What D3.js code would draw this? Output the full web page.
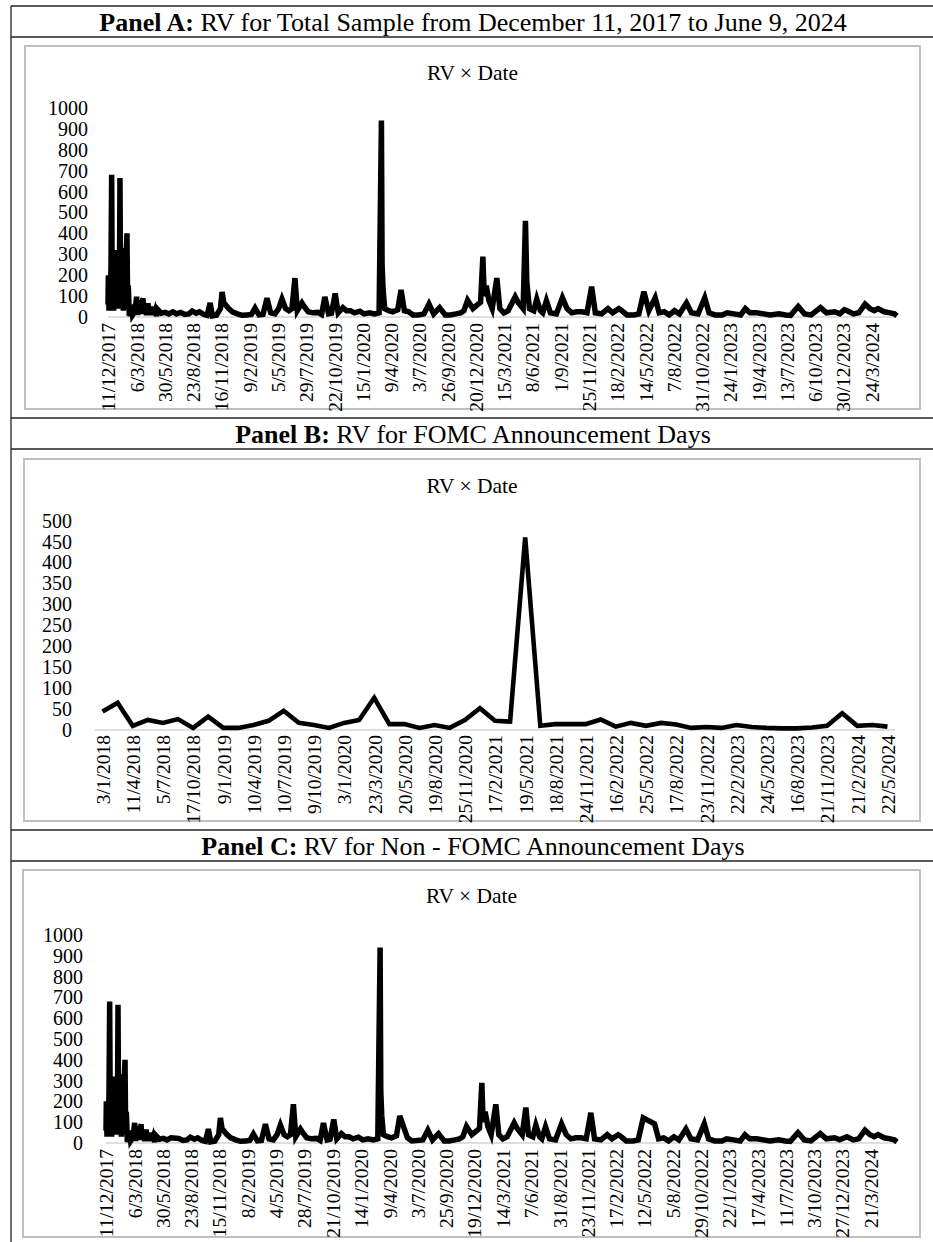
<!DOCTYPE html>
<html>
<head>
<meta charset="utf-8">
<script src="https://cdn.jsdelivr.net/npm/d3@7"></script>
<style>
body { margin: 0; background: #fff; }
svg { display: block; font-family: "Liberation Serif", "Times New Roman", serif; }
</style>
</head>
<body>
<div id="canvas"></div>
<script>
// daily RV, total sample (peaks and the low band)
var totalDates = [
  "11/12/2017","12/12/2017","14/12/2017","16/12/2017","18/12/2017","20/12/2017","22/12/2017","24/12/2017",
  "26/12/2017","28/12/2017","30/12/2017","1/1/2018","4/1/2018","6/1/2018","8/1/2018","10/1/2018",
  "12/1/2018","14/1/2018","16/1/2018","18/1/2018","20/1/2018","22/1/2018","24/1/2018","26/1/2018",
  "29/1/2018","1/2/2018","3/2/2018","6/2/2018","8/2/2018","10/2/2018","13/2/2018","17/2/2018",
  "20/2/2018","23/2/2018","27/2/2018","3/3/2018","7/3/2018","10/3/2018","14/3/2018","18/3/2018",
  "22/3/2018","26/3/2018","29/3/2018","1/4/2018","6/4/2018","10/4/2018","14/4/2018","17/4/2018",
  "21/4/2018","24/4/2018","28/4/2018","2/5/2018","6/5/2018","10/5/2018",
  "20/5/2018","1/6/2018","12/6/2018","24/6/2018","5/7/2018","17/7/2018","30/7/2018","11/8/2018",
  "21/8/2018","2/9/2018","12/9/2018","25/9/2018","5/10/2018","14/10/2018","21/10/2018","2/11/2018",
  "14/11/2018","19/11/2018","24/11/2018","1/12/2018","9/12/2018","20/12/2018","4/1/2019","18/1/2019",
  "2/2/2019","15/2/2019","26/2/2019","10/3/2019","22/3/2019","3/4/2019","14/4/2019","27/4/2019",
  "8/5/2019","18/5/2019","29/5/2019","8/6/2019","17/6/2019","26/6/2019","3/7/2019","17/7/2019",
  "24/7/2019","5/8/2019","19/8/2019","3/9/2019","14/9/2019","24/9/2019","5/10/2019","14/10/2019",
  "25/10/2019","3/11/2019","17/11/2019","28/11/2019","10/12/2019","22/12/2019","7/1/2020","20/1/2020",
  "5/2/2020","20/2/2020","5/3/2020","12/3/2020","14/3/2020","17/3/2020","22/3/2020","3/4/2020",
  "15/4/2020","30/4/2020","10/5/2020","20/5/2020","2/6/2020","15/6/2020","1/7/2020","18/7/2020",
  "2/8/2020","16/8/2020","3/9/2020","20/9/2020","5/10/2020","22/10/2020","5/11/2020","15/11/2020",
  "26/11/2020","12/12/2020","27/12/2020","4/1/2021","11/1/2021","15/1/2021","21/1/2021","29/1/2021",
  "8/2/2021","22/2/2021","3/3/2021","15/3/2021","28/3/2021","18/4/2021","27/4/2021","12/5/2021",
  "19/5/2021","23/5/2021","31/5/2021","13/6/2021","22/6/2021","3/7/2021","10/7/2021","21/7/2021",
  "2/8/2021","20/8/2021","7/9/2021","21/9/2021","5/10/2021","20/10/2021","5/11/2021","20/11/2021",
  "4/12/2021","15/12/2021","3/1/2022","22/1/2022","5/2/2022","24/2/2022","1/3/2022","20/3/2022",
  "10/4/2022","25/4/2022","10/5/2022","25/5/2022","13/6/2022","25/6/2022","10/7/2022","25/7/2022",
  "10/8/2022","25/8/2022","15/9/2022","30/9/2022","20/10/2022","9/11/2022","22/11/2022","10/12/2022",
  "1/1/2023","15/1/2023","5/2/2023","25/2/2023","11/3/2023","25/3/2023","15/4/2023","5/5/2023",
  "25/5/2023","20/6/2023","10/7/2023","25/7/2023","17/8/2023","5/9/2023","25/9/2023","23/10/2023",
  "10/11/2023","5/12/2023","20/12/2023","3/1/2024","11/1/2024","30/1/2024","15/2/2024","5/3/2024",
  "20/3/2024","2/4/2024","13/4/2024","1/5/2024","20/5/2024","1/6/2024","9/6/2024"
]
var totalValues = [
  60,200,30,180,40,250,680,40,
  220,30,280,40,240,60,320,40,
  300,50,665,60,330,40,300,30,
  200,40,260,400,60,150,5,20,
  60,10,20,40,97,10,50,60,
  15,90,20,45,10,65,15,40,
  10,50,10,30,5,35,
  18,22,15,25,15,22,12,15,
  28,18,25,12,8,67,5,8,
  40,120,70,55,40,25,15,8,
  10,12,43,10,12,90,20,15,
  40,86,40,30,40,186,30,67,
  50,25,20,22,12,96,15,18,
  113,20,45,30,30,20,28,15,
  20,15,20,940,250,130,40,30,
  25,35,130,30,25,10,10,15,
  62,15,45,10,10,15,20,30,
  80,40,60,70,289,100,150,80,
  40,186,40,20,30,97,70,40,
  460,170,40,30,86,30,20,78,
  20,15,92,40,20,25,25,20,
  145,20,15,40,20,40,35,10,
  10,15,121,30,92,20,25,10,
  30,15,67,20,15,92,20,10,
  10,20,15,10,40,20,20,15,
  10,15,10,8,50,15,10,45,
  20,25,15,35,30,15,20,62,
  40,30,40,25,20,15,5
]

// FOMC announcement days
var fomcDates = [
  "3/1/2018","21/2/2018","11/4/2018","23/5/2018","5/7/2018","22/8/2018","17/10/2018","29/11/2018",
  "9/1/2019","20/2/2019","10/4/2019","22/5/2019","10/7/2019","21/8/2019","9/10/2019","20/11/2019",
  "3/1/2020","19/2/2020","23/3/2020","8/4/2020","20/5/2020","1/7/2020","19/8/2020","7/10/2020","25/11/2020",
  "6/1/2021","17/2/2021","7/4/2021","19/5/2021","7/7/2021","18/8/2021","13/10/2021","24/11/2021",
  "5/1/2022","16/2/2022","6/4/2022","25/5/2022","6/7/2022","17/8/2022","12/10/2022","23/11/2022",
  "4/1/2023","22/2/2023","12/4/2023","24/5/2023","5/7/2023","16/8/2023","11/10/2023","21/11/2023",
  "3/1/2024","21/2/2024","10/4/2024","22/5/2024"
]
var fomcValues = [
  44,65,10,24,17,26,5,32,
  5,5,12,22,46,17,12,5,
  17,24,77,14,14,5,12,5,24,
  52,22,20,460,10,14,14,14,
  25,8,17,10,17,13,5,7,
  5,12,7,5,4,4,6,10,
  40,10,12,8
]

// tick labels as printed
var totalTicks = ["11/12/2017","6/3/2018","30/5/2018","23/8/2018","16/11/2018","9/2/2019","5/5/2019",
  "29/7/2019","22/10/2019","15/1/2020","9/4/2020","3/7/2020","26/9/2020","20/12/2020","15/3/2021",
  "8/6/2021","1/9/2021","25/11/2021","18/2/2022","14/5/2022","7/8/2022","31/10/2022","24/1/2023",
  "19/4/2023","13/7/2023","6/10/2023","30/12/2023","24/3/2024"]
var fomcTicks = ["3/1/2018","11/4/2018","5/7/2018","17/10/2018","9/1/2019","10/4/2019","10/7/2019",
  "9/10/2019","3/1/2020","23/3/2020","20/5/2020","19/8/2020","25/11/2020","17/2/2021","19/5/2021",
  "18/8/2021","24/11/2021","16/2/2022","25/5/2022","17/8/2022","23/11/2022","22/2/2023","24/5/2023",
  "16/8/2023","21/11/2023","21/2/2024","22/5/2024"]
var nonFomcTicks = ["11/12/2017","6/3/2018","30/5/2018","23/8/2018","15/11/2018","8/2/2019","4/5/2019",
  "28/7/2019","21/10/2019","14/1/2020","9/4/2020","3/7/2020","25/9/2020","19/12/2020","14/3/2021",
  "7/6/2021","31/8/2021","23/11/2021","17/2/2022","12/5/2022","5/8/2022","29/10/2022","22/1/2023",
  "17/4/2023","11/7/2023","3/10/2023","27/12/2023","21/3/2024"]
var yTicksBig = [0,100,200,300,400,500,600,700,800,900,1000]
var yTicksSmall = [0,50,100,150,200,250,300,350,400,450,500]

var sampleStart = "11/12/2017"
var sampleEnd = "9/6/2024"

var parse = d3.timeParse("%d/%m/%Y")
var fmt = d3.timeFormat("%-d/%-m/%Y")

// non-FOMC days = total sample without the FOMC days
var fomcSet = new Set(fomcDates)
var nonDates = totalDates.filter(function (d) { return !fomcSet.has(d) })
var nonValues = totalValues.filter(function (v, i) { return !fomcSet.has(totalDates[i]) })

var width = 933
var height = 1242
var serif = "'Liberation Serif', 'Times New Roman', serif"

var svg = d3.select("#canvas")
    .append("svg")
    .attr("width", width)
    .attr("height", height)

// table frame
var rowLines = [6, 37, 418, 449, 830, 861]
svg.selectAll(".rowline")
    .data(rowLines)
    .enter()
    .append("line")
    .attr("x1", 11).attr("x2", width)
    .attr("y1", function (d) { return d }).attr("y2", function (d) { return d })
    .attr("stroke", "#222").attr("stroke-width", 1.3)
svg.append("line")
    .attr("x1", 11).attr("x2", 11).attr("y1", 6).attr("y2", height)
    .attr("stroke", "#222").attr("stroke-width", 1.3)

var panels = [
    { bold: "Panel A:", rest: " RV for Total Sample from December 11, 2017 to June 9, 2024",
      titleY: 31, box: [25, 46, 895, 363], subY: 80,
      left: 108, right: 897, top: 108, bottom: 317, labelGap: 20, tickGap: 6, stroke: 5.5,
      dates: totalDates, values: totalValues, ticks: totalTicks, yTicks: yTicksBig, kind: "time" },
    { bold: "Panel B:", rest: " RV for FOMC Announcement Days",
      titleY: 443, box: [24, 459, 896, 362], subY: 493,
      left: 95, right: 895, top: 520.7, bottom: 730, labelGap: 23, tickGap: 5, stroke: 4.6,
      dates: fomcDates, values: fomcValues, ticks: fomcTicks, yTicks: yTicksSmall, kind: "point" },
    { bold: "Panel C:", rest: " RV for Non - FOMC Announcement Days",
      titleY: 855, box: [23, 870, 897, 367], subY: 903,
      left: 106, right: 897, top: 935, bottom: 1143, labelGap: 23, tickGap: 6, stroke: 5.5,
      dates: nonDates, values: nonValues, ticks: nonFomcTicks, yTicks: yTicksBig, kind: "time" }
]

panels.forEach(drawPanel)

function drawPanel(p) {
    var title = svg.append("text")
        .attr("x", 473)
        .attr("y", p.titleY)
        .attr("text-anchor", "middle")
        .style("font-size", "26px")
        .style("white-space", "pre")
    title.append("tspan").attr("font-weight", "bold").text(p.bold)
    title.append("tspan").text(p.rest)

    svg.append("rect")
        .attr("x", p.box[0]).attr("y", p.box[1])
        .attr("width", p.box[2]).attr("height", p.box[3])
        .attr("fill", "none")
        .attr("stroke", "#bfbfbf")
        .attr("stroke-width", 2)

    svg.append("text")
        .attr("x", p.box[0] + p.box[2] / 2)
        .attr("y", p.subY)
        .attr("text-anchor", "middle")
        .style("font-size", "21.5px")
        .text("RV \u00d7 Date")

    var yMax = p.yTicks[p.yTicks.length - 1]
    var yScale = d3.scaleLinear().domain([0, yMax]).range([p.bottom, p.top])

    var xScale, xPos, tickVals, tickFmt
    if (p.kind == "time") {
        xScale = d3.scaleTime().domain([parse(sampleStart), parse(sampleEnd)]).range([p.left, p.right])
        xPos = function (d) { return xScale(parse(d)) }
        tickVals = p.ticks.map(parse)
        tickFmt = fmt
    } else {
        xScale = d3.scalePoint().domain(p.dates).range([p.left, p.right]).padding(0.5)
        xPos = function (d) { return xScale(d) }
        tickVals = p.ticks
        tickFmt = function (d) { return d }
    }

    var yAxis = svg.append("g")
        .attr("transform", "translate(" + p.left + ",0)")
        .call(d3.axisLeft(yScale)
            .tickValues(p.yTicks)
            .tickFormat(d3.format("d"))
            .tickSize(0)
            .tickPadding(p.labelGap))
    yAxis.select(".domain").remove()
    yAxis.selectAll("text")
        .style("font-size", "20px")
        .style("font-family", serif)
        .attr("fill", "#000")

    var xAxis = svg.append("g")
        .attr("transform", "translate(0," + p.bottom + ")")
        .call(d3.axisBottom(xScale).tickValues(tickVals).tickFormat(tickFmt).tickSize(0))
    xAxis.select(".domain")
        .attr("stroke", "#bfbfbf")
        .attr("stroke-width", 1.2)
        .attr("d", "M" + p.left + ",0H" + p.right)
    xAxis.selectAll("text")
        .attr("transform", "rotate(-90)")
        .attr("x", -p.tickGap)
        .attr("y", 0)
        .attr("dy", "0.35em")
        .style("text-anchor", "end")
        .style("font-size", "19.5px")
        .style("font-family", serif)
        .attr("fill", "#000")

    var line = d3.line()
        .x(function (d, i) { return xPos(p.dates[i]) })
        .y(function (d) { return yScale(d) })

    svg.append("path")
        .datum(p.values)
        .attr("d", line)
        .attr("fill", "none")
        .attr("stroke", "#000")
        .attr("stroke-width", p.stroke)
        .attr("stroke-linejoin", "miter")
}
</script>
</body>
</html>
